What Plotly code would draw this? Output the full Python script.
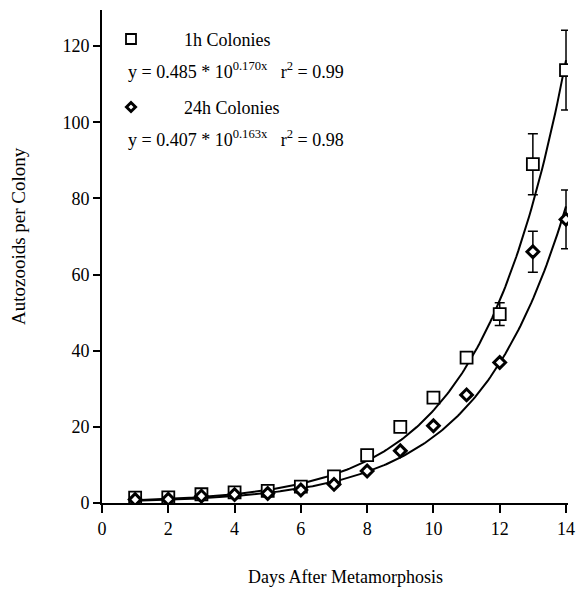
import numpy as np
import plotly.graph_objects as go

days = list(range(1, 15))
colonies_1h = [1.4, 1.5, 2.3, 2.8, 3.2, 4.3, 7.0, 12.6, 20.0, 27.7, 38.2, 49.6, 89.0, 113.7]
err_1h = [0, 0, 0, 0, 0, 0, 0, 0, 0, 0, 0, 3.0, 8.0, 10.5]
colonies_24h = [0.9, 1.0, 1.8, 2.2, 2.5, 3.4, 4.9, 8.4, 13.7, 20.3, 28.4, 36.9, 66.0, 74.5]
err_24h = [0, 0, 0, 0, 0, 0, 0, 0, 0, 0, 0, 0, 5.4, 7.7]
x_ticks = list(range(0, 15, 2))
y_ticks = list(range(0, 121, 20))

# fitted models shown on chart
fit_1h = (0.485, 0.170)
fit_24h = (0.407, 0.163)
xf = np.linspace(1, 14, 200)

FONT = "Liberation Serif"

fig = go.Figure()
for (a, b) in (fit_1h, fit_24h):
    fig.add_trace(go.Scatter(x=xf, y=a * 10 ** (b * xf), mode="lines",
                             line=dict(color="black", width=2), showlegend=False,
                             hoverinfo="skip"))

fig.add_trace(go.Scatter(x=days, y=colonies_1h, mode="markers",
                         marker=dict(symbol="square", size=12, color="white",
                                     line=dict(color="black", width=1.8)),
                         error_y=dict(type="data", array=err_1h, color="black",
                                      thickness=1.5, width=5),
                         showlegend=False))
fig.add_trace(go.Scatter(x=days, y=colonies_24h, mode="markers",
                         marker=dict(symbol="diamond", size=9, color="white",
                                     line=dict(color="black", width=3)),
                         error_y=dict(type="data", array=err_24h, color="black",
                                      thickness=1.5, width=5),
                         showlegend=False))

L, R, T, B = 102, 13, 10, 86
W, H = 581, 589
pw, ph = W - L - R, H - T - B

def px(x):
    return (x - L) / pw

def py(y):
    return (H - B - y) / ph

# legend markers
fig.add_shape(type="rect", xref="paper", yref="paper", xsizemode="pixel", ysizemode="pixel",
              xanchor=px(131), yanchor=py(39), x0=-5, x1=5, y0=-5, y1=5,
              line=dict(color="black", width=1.8), fillcolor="white")
fig.add_shape(type="path", xref="paper", yref="paper", xsizemode="pixel", ysizemode="pixel",
              xanchor=px(131), yanchor=py(107), path="M -4.5 0 L 0 4.5 L 4.5 0 L 0 -4.5 Z",
              line=dict(color="black", width=3), fillcolor="white")

texts = [
    (182, 40, "1h Colonies"),
    (126, 70, "y = 0.485 * 10<sup>0.170x</sup>   r<sup>2</sup> = 0.99"),
    (182, 108, "24h Colonies"),
    (126, 138, "y = 0.407 * 10<sup>0.163x</sup>   r<sup>2</sup> = 0.98"),
]
for x, y, t in texts:
    fig.add_annotation(x=px(x), y=py(y), xref="paper", yref="paper", text=t,
                       showarrow=False, xanchor="left", yanchor="middle",
                       font=dict(family=FONT, size=18, color="black"))

# axis titles
fig.add_annotation(x=px(345), y=py(577), xref="paper", yref="paper",
                   text="Days After Metamorphosis", showarrow=False,
                   xanchor="center", yanchor="middle",
                   font=dict(family=FONT, size=18, color="black"))
fig.add_annotation(x=px(18), y=py(236), xref="paper", yref="paper",
                   text="Autozooids per Colony", showarrow=False, textangle=-90,
                   xanchor="center", yanchor="middle",
                   font=dict(family=FONT, size=19, color="black"))

fig.update_layout(
    width=W, height=H,
    margin=dict(l=L, r=R, t=T, b=B),
    plot_bgcolor="white", paper_bgcolor="white",
    font=dict(family=FONT, size=18, color="black"),
)
fig.update_xaxes(range=[0, 14.06], tickvals=x_ticks, automargin=False,
                 showgrid=False, zeroline=False, showline=True, linecolor="black",
                 linewidth=2, ticks="outside", ticklen=8, tickwidth=2, tickcolor="black")
fig.update_yaxes(range=[0, 129.5], tickvals=y_ticks, automargin=False,
                 showgrid=False, zeroline=False, showline=True, linecolor="black",
                 linewidth=2, ticks="outside", ticklen=7, tickwidth=2, tickcolor="black")

fig.write_html("out.html")
